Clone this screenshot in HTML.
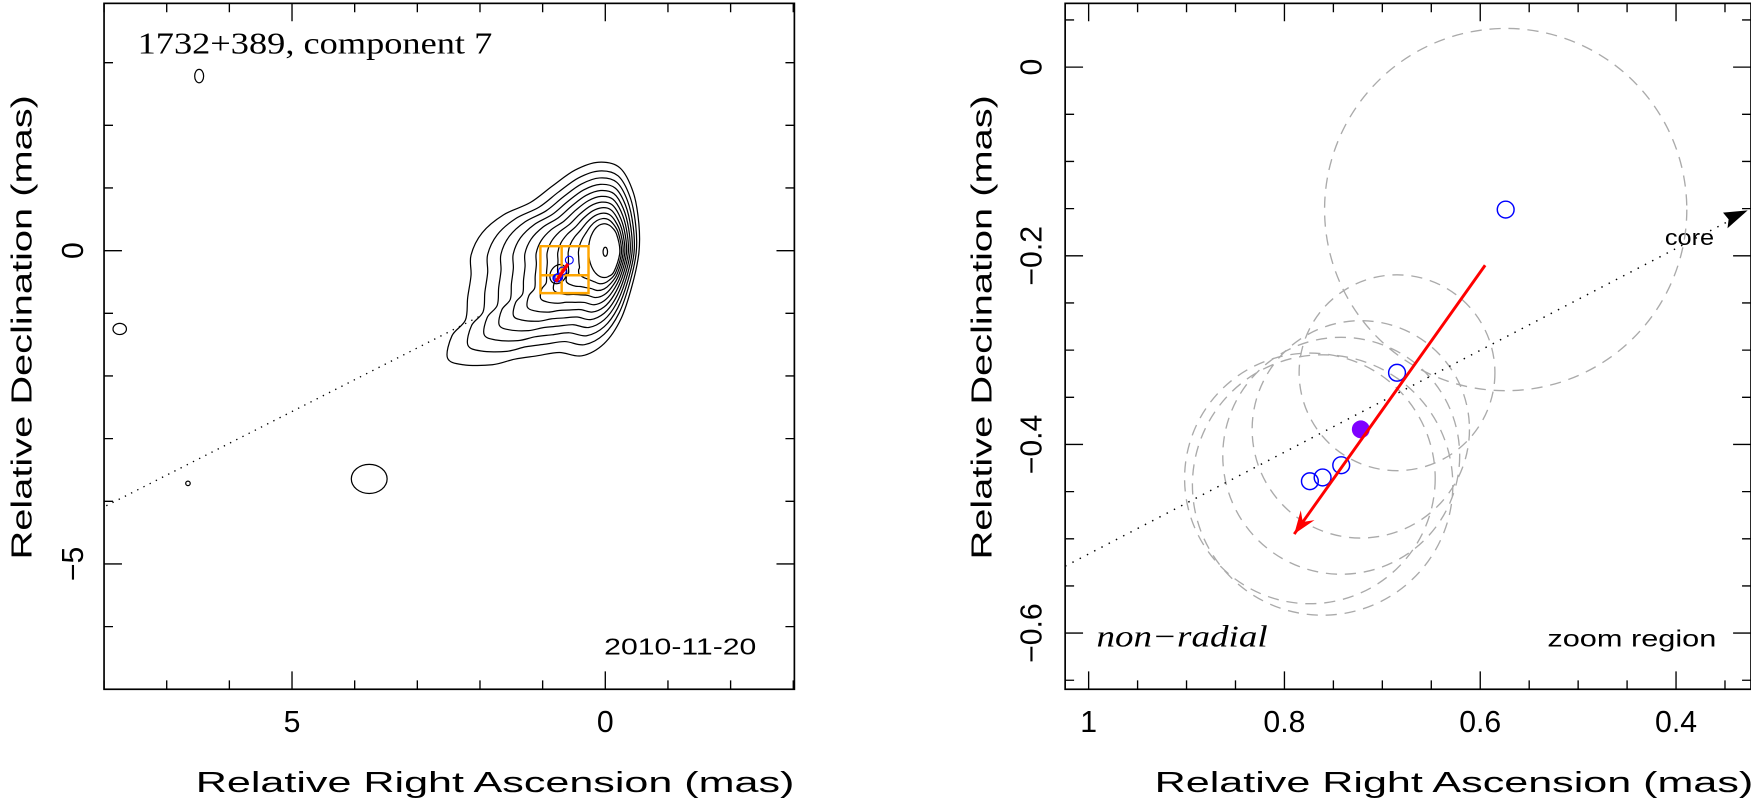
<!DOCTYPE html>
<html><head><meta charset="utf-8"><style>
html,body{margin:0;padding:0;background:#fff}
svg{display:block}
text{font-family:"Liberation Sans",sans-serif;fill:#000}
</style></head><body>
<svg width="1751" height="809" viewBox="0 0 1565 723" preserveAspectRatio="none" xmlns="http://www.w3.org/2000/svg">
<g id="left"></g>
<g id="right"></g>
</svg>
<script>
// Right panel data (mas)
const compRA = [0.574, 0.685, 0.742, 0.761, 0.774];
const compDec = [-0.151, -0.324, -0.422, -0.435, -0.439];
const circRA = [0.574, 0.685, 0.722, 0.742, 0.761, 0.774];
const circDec = [-0.151, -0.324, -0.384, -0.412, -0.443, -0.436];
const circR = [0.185, 0.10, 0.111, 0.121, 0.133, 0.128];
const meanRA = [0.722];
const meanDec = [-0.384];
const arrowRA = [0.595, 0.79];
const arrowDec = [-0.210, -0.495];
const rightXTicks = [1, 0.8, 0.6, 0.4];
const rightXLabels = ["1", "0.8", "0.6", "0.4"];
const rightYTicks = [0, -0.2, -0.4, -0.6];
const rightYLabels = ["0", "\u22120.2", "\u22120.4", "\u22120.6"];
// Left panel data
const leftXTicks = [5, 0];
const leftXLabels = ["5", "0"];
const leftYTicks = [0, -5];
const leftYLabels = ["0", "\u22125"];

const NS = "http://www.w3.org/2000/svg";
function mk(parent, tag, attrs, txt) {
  const e = document.createElementNS(NS, tag);
  for (const k in attrs) e.setAttribute(k, attrs[k]);
  if (txt !== undefined) e.textContent = txt;
  parent.appendChild(e);
  return e;
}
const L = document.getElementById('left'), R = document.getElementById('right');

const xL = v => 541 - 56 * v, yL = v => 224 - 56 * v;
const xR = v => 973 + (1 - v) * 875, yR = v => 60 - v * 843;

function frame(g, x0, y0, x1, y1) {
  const r = mk(g, 'rect', {x: x0, y: y0, width: x1 - x0, height: y1 - y0, fill: 'none', stroke: '#000', 'stroke-width': 1.5});
  
  
}
function ticks(g, x0, y0, x1, y1, fx, fy, xmin, xmax, xstep, xmaj, ymin, ymax, ystep, ymaj) {
  let d = '';
  for (let v = Math.ceil(xmin / xstep - 1e-6) * xstep; v <= xmax + 1e-9; v += xstep) {
    const px = fx(v); if (px < x0 || px > x1) continue;
    const major = Math.abs(v / xmaj - Math.round(v / xmaj)) < 1e-6;
    const len = major ? 16 : 8;
    d += `M${px},${y1}v${-len}M${px},${y0}v${len}`;
  }
  for (let v = Math.ceil(ymin / ystep - 1e-6) * ystep; v <= ymax + 1e-9; v += ystep) {
    const py = fy(v); if (py < y0 || py > y1) continue;
    const major = Math.abs(v / ymaj - Math.round(v / ymaj)) < 1e-6;
    const len = major ? 16 : 8;
    d += `M${x0},${py}h${len}M${x1},${py}h${-len}`;
  }
  const p = mk(g, 'path', {d: d, stroke: '#000', 'stroke-width': 1.2, fill: 'none'});
  
  
}

// ===== LEFT PANEL =====
frame(L, 93, 3, 710, 616);
ticks(L, 93, 3, 710, 616, xL, yL, -3, 8, 1, 5, -7, 3.9, 1, 5);
leftXTicks.forEach((v, i) => {
  const t = mk(L, 'text', {x: xL(v), y: 654, 'font-size': 27, 'text-anchor': 'middle'}, leftXLabels[i]);
  
  
});
leftYTicks.forEach((v, i) => {
  const t = mk(L, 'text', {x: 74, y: yL(v), 'font-size': 27, 'text-anchor': 'middle', transform: `rotate(-90 74 ${yL(v)})`}, leftYLabels[i]);
  
  
});
let t = mk(L, 'text', {x: 175, y: 708, 'font-size': 26, textLength: 535, lengthAdjust: 'spacingAndGlyphs'}, 'Relative Right Ascension (mas)');
 
t = mk(L, 'text', {x: 28, y: 500, 'font-size': 26, textLength: 415, lengthAdjust: 'spacingAndGlyphs', transform: 'rotate(-90 28 500)'}, 'Relative Declination (mas)');
 
t = mk(L, 'text', {x: 123, y: 48, 'font-size': 27, textLength: 317, lengthAdjust: 'spacingAndGlyphs', style: 'font-family:"Liberation Serif",serif'}, '1732+389, component 7');
 
t = mk(L, 'text', {x: 540, y: 585, 'font-size': 21, textLength: 136, lengthAdjust: 'spacingAndGlyphs', fill: '#222'}, '2010-11-20');
 

let p = mk(L, 'path', {d: 'M95,452L430,282', stroke: '#000', 'stroke-width': 1.2, 'stroke-dasharray': '1.2 5', fill: 'none'});
 

// contours
const outer = [[400,320],[404,300],[416,286],[418,266],[421,246],[421,228],[431,208],[450,192],[474,181],[494,166],[514,152],[535,145],[554,150],[566,172],[571,200],[571,226],[565,255],[555,285],[540,307],[520,318],[500,315],[480,318],[460,321],[440,326],[414,326]];
const inner = outer.map(q => {
  const a = Math.atan2(q[1] - 224, q[0] - 540);
  return [540 + 14 * Math.cos(a), 224 + 24 * Math.sin(a)];
});
function smooth(pts) {
  const n = pts.length; let d = `M${pts[0][0]},${pts[0][1]}`;
  for (let i = 0; i < n; i++) {
    const p0 = pts[(i - 1 + n) % n], p1 = pts[i], p2 = pts[(i + 1) % n], p3 = pts[(i + 2) % n];
    d += `C${p1[0] + (p2[0] - p0[0]) / 6},${p1[1] + (p2[1] - p0[1]) / 6} ${p2[0] - (p3[0] - p1[0]) / 6},${p2[1] - (p3[1] - p1[1]) / 6} ${p2[0]},${p2[1]}`;
  }
  return d + 'Z';
}
for (let k = 0; k < 11; k++) {
  const f = Math.pow(k / 10, 0.85);
  const pts = outer.map((q, i) => [q[0] + (inner[i][0] - q[0]) * f, q[1] + (inner[i][1] - q[1]) * f]);
  const c = mk(L, 'path', {d: smooth(pts), fill: 'none', stroke: '#000', 'stroke-width': 1.1});
  
  
}
[[499, 245, 7, 9]].forEach(e => {
  const c = mk(L, 'ellipse', {cx: e[0], cy: e[1], rx: e[2], ry: e[3], fill: 'none', stroke: '#000', 'stroke-width': 1.1, transform: `rotate(30 ${e[0]} ${e[1]})`});
  
  
});
[[178, 68, 4, 6], [107, 294, 6, 5], [330, 428, 16, 13], [168, 432, 2, 2], [541, 225, 2, 4]].forEach(e => {
  const c = mk(L, 'ellipse', {cx: e[0], cy: e[1], rx: e[2], ry: e[3], fill: 'none', stroke: '#000', 'stroke-width': 1.1});
  
  
});
p = mk(L, 'path', {d: 'M483,220H526V262H483ZM502,220V262M483,246H526', stroke: '#ffa500', 'stroke-width': 2.2, fill: 'none'});
 
compRA.forEach((v, i) => {
  const c = mk(L, 'circle', {cx: xL(v), cy: yL(compDec[i]), r: 3.5, fill: 'none', stroke: '#0000ff', 'stroke-width': 1});
  
  
});
p = mk(L, 'line', {x1: xL(arrowRA[0]), y1: yL(arrowDec[0]), x2: xL(arrowRA[1]), y2: yL(arrowDec[1]), stroke: '#ff0000', 'stroke-width': 3});
 

// ===== RIGHT PANEL =====
frame(R, 952, 3, 1565, 616);
ticks(R, 952, 3, 1565, 616, xR, yR, 0.3, 1.05, 0.05, 0.2, -0.7, 0.07, 0.05, 0.2);
rightXTicks.forEach((v, i) => {
  const t = mk(R, 'text', {x: xR(v), y: 654, 'font-size': 27, 'text-anchor': 'middle'}, rightXLabels[i]);
  
  
});
rightYTicks.forEach((v, i) => {
  const t = mk(R, 'text', {x: 931, y: yR(v), 'font-size': 27, 'text-anchor': 'middle', transform: `rotate(-90 931 ${yR(v)})`}, rightYLabels[i]);
  
  
});
t = mk(R, 'text', {x: 1032, y: 708, 'font-size': 26, textLength: 535, lengthAdjust: 'spacingAndGlyphs'}, 'Relative Right Ascension (mas)');
 
t = mk(R, 'text', {x: 886, y: 500, 'font-size': 26, textLength: 415, lengthAdjust: 'spacingAndGlyphs', transform: 'rotate(-90 886 500)'}, 'Relative Declination (mas)');
 
t = mk(R, 'text', {x: 980, y: 578, 'font-size': 27, 'font-style': 'italic', textLength: 153, lengthAdjust: 'spacingAndGlyphs', style: 'font-family:"Liberation Serif",serif'}, 'non\u2212radial');
 
t = mk(R, 'text', {x: 1383, y: 578, 'font-size': 21, textLength: 151, lengthAdjust: 'spacingAndGlyphs', fill: '#222'}, 'zoom region');
 
t = mk(R, 'text', {x: 1488, y: 219, 'font-size': 20, textLength: 44, lengthAdjust: 'spacingAndGlyphs', fill: '#222'}, 'core');
 

const cp = mk(R, 'clipPath', {id: 'rclip'});
mk(cp, 'rect', {x: 952, y: 3, width: 613, height: 613});
const rg = mk(R, 'g', {'clip-path': 'url(#rclip)'});
 
circRA.forEach((v, i) => {
  const c = mk(rg, 'ellipse', {cx: xR(v), cy: yR(circDec[i]), rx: circR[i] * 875, ry: circR[i] * 875, fill: 'none', stroke: '#aaa', 'stroke-width': 1.2, 'stroke-dasharray': '10 7'});
  
  
});
p = mk(rg, 'path', {d: 'M952,506L1552,194', stroke: '#000', 'stroke-width': 1.3, 'stroke-dasharray': '1.3 6', fill: 'none'});
 
p = mk(rg, 'path', {d: 'M1562,188L1540,190L1545,196L1544,204Z', fill: '#000'});
 
compRA.forEach((v, i) => {
  const c = mk(rg, 'circle', {cx: xR(v), cy: yR(compDec[i]), r: 7.5, fill: 'none', stroke: '#0000ff', 'stroke-width': 1.3});
  
  
});
meanRA.forEach((v, i) => {
  const c = mk(rg, 'circle', {cx: xR(v), cy: yR(meanDec[i]), r: 8, fill: '#7f00ff'});
  
  
});
const ax1 = xR(arrowRA[0]), ay1 = yR(arrowDec[0]), ax2 = xR(arrowRA[1]), ay2 = yR(arrowDec[1]);
p = mk(rg, 'line', {x1: ax1, y1: ay1, x2: ax2, y2: ay2, stroke: '#ff0000', 'stroke-width': 2.6});
 
const ang = Math.atan2(ay2 - ay1, ax2 - ax1), hl = 22;
const hx1 = ax2 - hl * Math.cos(ang - 0.35), hy1 = ay2 - hl * Math.sin(ang - 0.35);
const hx2 = ax2 - hl * Math.cos(ang + 0.35), hy2 = ay2 - hl * Math.sin(ang + 0.35);
const mx = ax2 - hl * 0.6 * Math.cos(ang), my = ay2 - hl * 0.6 * Math.sin(ang);
p = mk(rg, 'path', {d: `M${ax2},${ay2}L${hx1},${hy1}L${mx},${my}L${hx2},${hy2}Z`, fill: '#ff0000'});
 
</script>
</body></html>
